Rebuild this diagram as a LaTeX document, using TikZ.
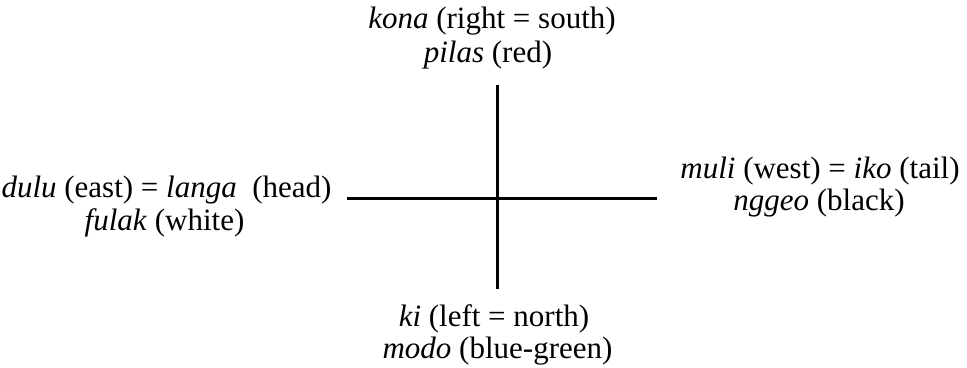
\documentclass[tikz,border=0pt]{standalone}
\usepackage{fontspec}
\setmainfont{Liberation Serif}
\begin{document}
\begin{tikzpicture}[x=1pt,y=-1pt,
  lbl/.style={inner sep=0pt, anchor=base, font=\fontsize{31}{33}\selectfont},
  axis/.style={line width=3pt, black}]
\useasboundingbox (0,0) rectangle (967,367);
% axes
\coordinate (top) at (497,85);
\coordinate (bot) at (497,289);
\coordinate (lft) at (347,198);
\coordinate (rgt) at (657,198);
\draw[axis] (top) -- (bot);
\draw[axis] (lft) -- (rgt);
% labels
\node[lbl] (kona) at (492,28) {\textit{kona} (right = south)};
\node[lbl] (pilas) at (488,62) {\textit{pilas} (red)};
\node[lbl] (dulu) at (166.5,197) {\textit{dulu} (east) = \textit{langa}\ \ (head)};
\node[lbl] (fulak) at (164.5,230) {\textit{fulak} (white)};
\node[lbl] (muli) at (820,178) {\textit{muli} (west) = \textit{iko} (tail)};
\node[lbl] (nggeo) at (819,210) {\textit{nggeo} (black)};
\node[lbl] (ki) at (494,326) {\textit{ki} (left = north)};
\node[lbl] (modo) at (497.5,358) {\textit{modo} (blue-green)};
\end{tikzpicture}
\end{document}
